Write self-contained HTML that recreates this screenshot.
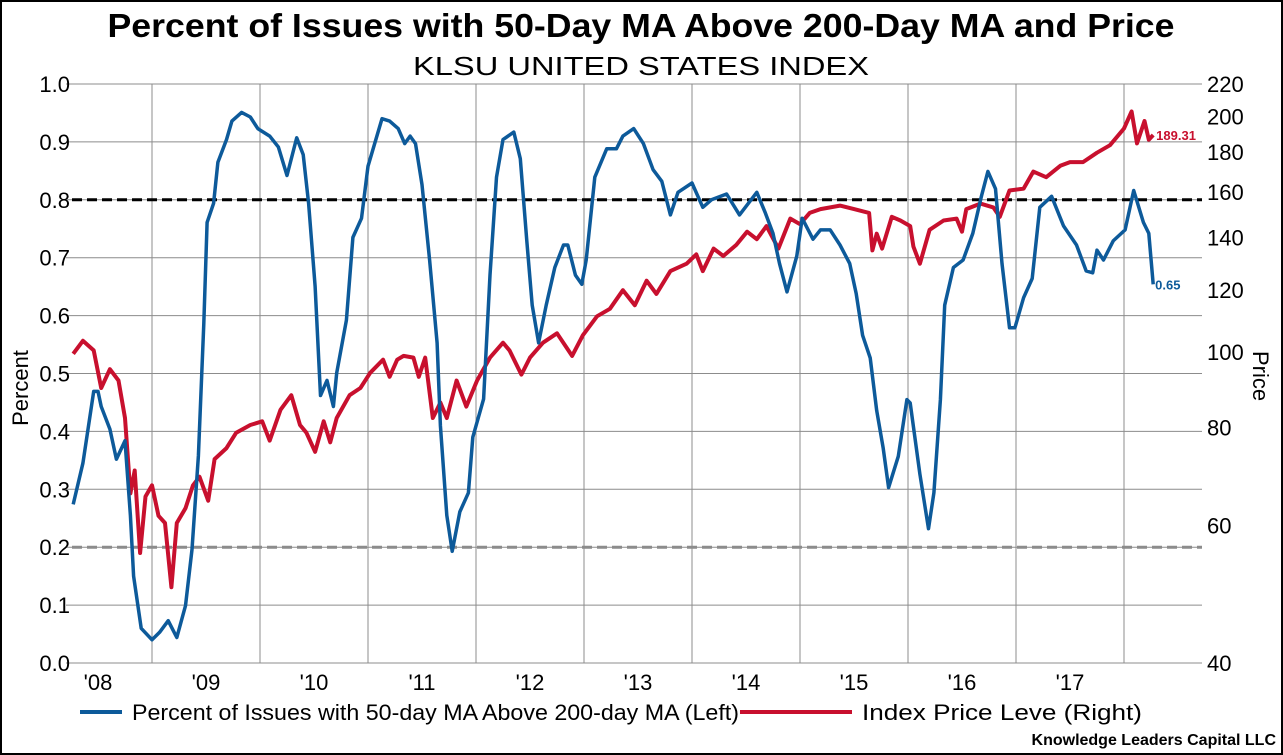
<!DOCTYPE html>
<html><head><meta charset="utf-8">
<style>
html,body{margin:0;padding:0;background:#fff;}
svg{display:block;font-family:"Liberation Sans",Arial,sans-serif;}
</style></head>
<body>
<svg id="chart" width="1283" height="755" viewBox="0 0 1283 755">
<rect x="1" y="1" width="1281" height="753" fill="#fff" stroke="#000" stroke-width="2"/>
<text x="641" y="37" text-anchor="middle" font-size="33" font-weight="bold" textLength="1067" lengthAdjust="spacingAndGlyphs">Percent of Issues with 50-Day MA Above 200-Day MA and Price</text>
<text x="641" y="75" text-anchor="middle" font-size="26" textLength="456" lengthAdjust="spacingAndGlyphs">KLSU UNITED STATES INDEX</text>
<g id="grid"></g>
<g id="axes"></g>
<g id="series"></g>
<text transform="translate(28,388) rotate(-90)" text-anchor="middle" font-size="22">Percent</text>
<text transform="translate(1253,376) rotate(90)" text-anchor="middle" font-size="22">Price</text>
<g>
<g>
<line x1="80" y1="712" x2="122" y2="712" stroke="#0d5a9a" stroke-width="4"/>
<text x="132" y="720" font-size="22" textLength="607" lengthAdjust="spacingAndGlyphs">Percent of Issues with 50-day MA Above 200-day MA  (Left)</text>
</g>
<g>
<line x1="740" y1="712" x2="852" y2="712" stroke="#c8102e" stroke-width="4"/>
<text x="862" y="720" font-size="22" textLength="280" lengthAdjust="spacingAndGlyphs">Index Price Leve  (Right)</text>
</g>
</g>
<text x="1276" y="745" text-anchor="end" font-size="16" font-weight="bold">Knowledge Leaders Capital LLC</text>
</svg>
<script>
const leftTicks = [0.0,0.1,0.2,0.3,0.4,0.5,0.6,0.7,0.8,0.9,1.0];
const rightTicks = [40,60,80,100,120,140,160,180,200,220];
const yearLabels = ["'08","'09","'10","'11","'12","'13","'14","'15","'16","'17"];
const yearStarts = [2008,2009,2010,2011,2012,2013,2014,2015,2016,2017];
const refLevels = [0.8,0.2];
const blueDates = [2007.77,2007.86,2007.96,2008.00,2008.03,2008.11,2008.17,2008.25,2008.30,2008.33,2008.40,2008.50,2008.57,2008.65,2008.73,2008.81,2008.87,2008.93,2008.98,2009.01,2009.07,2009.11,2009.19,2009.24,2009.33,2009.41,2009.48,2009.59,2009.67,2009.75,2009.84,2009.90,2009.95,2010.01,2010.06,2010.12,2010.18,2010.21,2010.30,2010.36,2010.44,2010.50,2010.63,2010.70,2010.78,2010.84,2010.89,2010.94,2011.00,2011.07,2011.14,2011.17,2011.23,2011.28,2011.35,2011.43,2011.47,2011.57,2011.63,2011.69,2011.75,2011.85,2011.91,2011.97,2012.02,2012.08,2012.15,2012.23,2012.31,2012.35,2012.42,2012.48,2012.52,2012.60,2012.71,2012.80,2012.86,2012.96,2013.05,2013.14,2013.22,2013.30,2013.37,2013.50,2013.60,2013.68,2013.82,2013.94,2014.10,2014.18,2014.25,2014.31,2014.38,2014.47,2014.52,2014.62,2014.69,2014.78,2014.87,2014.96,2015.02,2015.08,2015.15,2015.21,2015.27,2015.32,2015.41,2015.49,2015.52,2015.61,2015.69,2015.74,2015.80,2015.84,2015.92,2016.01,2016.10,2016.18,2016.24,2016.31,2016.37,2016.44,2016.49,2016.57,2016.65,2016.72,2016.83,2016.94,2017.06,2017.15,2017.21,2017.25,2017.31,2017.40,2017.51,2017.59,2017.68,2017.73,2017.77];
const blueVals = [0.274,0.345,0.469,0.469,0.443,0.404,0.352,0.384,0.255,0.15,0.06,0.04,0.053,0.073,0.044,0.099,0.196,0.358,0.586,0.761,0.794,0.865,0.904,0.936,0.951,0.943,0.923,0.91,0.891,0.842,0.907,0.878,0.794,0.651,0.462,0.488,0.443,0.501,0.592,0.735,0.768,0.858,0.94,0.936,0.923,0.897,0.91,0.897,0.826,0.696,0.553,0.41,0.255,0.193,0.261,0.294,0.39,0.456,0.67,0.839,0.904,0.917,0.871,0.729,0.618,0.553,0.618,0.683,0.722,0.722,0.67,0.654,0.696,0.839,0.888,0.888,0.91,0.923,0.897,0.852,0.832,0.774,0.813,0.829,0.787,0.8,0.81,0.774,0.813,0.777,0.742,0.69,0.641,0.703,0.768,0.732,0.748,0.748,0.722,0.69,0.638,0.566,0.527,0.436,0.371,0.303,0.357,0.455,0.449,0.326,0.232,0.294,0.455,0.618,0.683,0.696,0.742,0.806,0.849,0.819,0.69,0.579,0.579,0.631,0.664,0.787,0.806,0.755,0.722,0.677,0.674,0.713,0.696,0.729,0.748,0.816,0.761,0.742,0.654];
const redDates = [2007.77,2007.86,2007.96,2008.03,2008.11,2008.19,2008.25,2008.30,2008.34,2008.39,2008.44,2008.50,2008.56,2008.62,2008.68,2008.73,2008.81,2008.88,2008.94,2009.02,2009.08,2009.19,2009.28,2009.41,2009.52,2009.59,2009.69,2009.79,2009.87,2009.93,2010.01,2010.09,2010.15,2010.21,2010.33,2010.43,2010.52,2010.64,2010.70,2010.77,2010.83,2010.92,2010.97,2011.03,2011.10,2011.17,2011.23,2011.32,2011.41,2011.51,2011.63,2011.75,2011.81,2011.92,2012.00,2012.12,2012.25,2012.39,2012.49,2012.62,2012.74,2012.86,2012.97,2013.08,2013.17,2013.30,2013.45,2013.54,2013.60,2013.70,2013.79,2013.91,2014.01,2014.10,2014.19,2014.30,2014.41,2014.50,2014.59,2014.69,2014.87,2015.00,2015.14,2015.17,2015.21,2015.26,2015.35,2015.43,2015.52,2015.55,2015.61,2015.70,2015.83,2015.95,2016.00,2016.04,2016.17,2016.29,2016.35,2016.44,2016.57,2016.66,2016.78,2016.91,2017.00,2017.12,2017.25,2017.37,2017.50,2017.57,2017.62,2017.69,2017.73,2017.77];
const redVals = [99.4,103.3,100.4,89.9,95.0,91.9,82.3,65.9,70.5,55.3,65.3,67.5,61.7,60.4,50.0,60.4,63.1,67.5,69.2,64.5,72.9,75.3,78.8,80.6,81.5,77.0,84.3,88.0,80.6,78.8,74.5,81.5,76.6,82.3,88.0,89.9,94.0,97.7,92.9,97.7,98.8,98.3,92.9,98.3,82.3,86.1,82.3,91.9,85.1,91.9,98.3,102.7,100.4,93.5,98.3,102.7,105.6,98.8,105.0,111.0,113.5,119.9,114.7,123.3,118.6,126.8,129.6,133.2,126.8,135.5,132.6,137.0,142.4,139.3,144.8,135.5,148.0,145.6,150.5,152.2,153.8,152.2,150.5,134.8,141.6,135.5,148.8,147.2,144.8,136.3,129.6,143.2,147.2,148.0,142.4,152.2,154.7,153.0,148.8,160.8,161.7,170.0,167.2,172.9,174.8,174.8,179.7,183.7,193.0,202.9,184.7,197.3,186.7,189.31];

const NS = "http://www.w3.org/2000/svg";
const PL = 72, PR = 1202, PT = 84, PB = 663;
function xOf(t){ return 98 + (t - 2008) * 108; }
function yLeft(v){ return PB - v * (PB - PT); }
function yRight(p){ return PB - Math.log(p/40)/Math.log(220/40) * (PB - PT); }
function mk(tag, attrs, parent){ const e = document.createElementNS(NS, tag); for (const k in attrs) e.setAttribute(k, attrs[k]); parent.appendChild(e); return e; }

const grid = document.getElementById('grid');
const axes = document.getElementById('axes');
const series = document.getElementById('series');

leftTicks.forEach(v => {
  const y = yLeft(v);
  const gl = mk('line', {x1: PL - 6, x2: PR, y1: y, y2: y, stroke: '#8c8c8c', 'stroke-width': 1}, grid);
  
  
  const t = mk('text', {x: PL - 2, y: y + 8, 'text-anchor': 'end', 'font-size': 22}, axes);
  t.textContent = v.toFixed(1);
  
  
});
yearStarts.forEach((yr, i) => {
  const gx = xOf(yr + 0.5);
  const gl = mk('line', {x1: gx, x2: gx, y1: PT, y2: PB, stroke: '#8c8c8c', 'stroke-width': 1}, grid);
  
  
  const t = mk('text', {x: xOf(yr), y: 690, 'text-anchor': 'middle', 'font-size': 22}, axes);
  t.textContent = yearLabels[i];
  
  
});
rightTicks.forEach(p => {
  const y = yRight(p);
  const t = mk('text', {x: PR + 5, y: y + 8, 'font-size': 22}, axes);
  t.textContent = p;
  
  
});
refLevels.forEach((v, i) => {
  const y = yLeft(v);
  const l = mk('line', {x1: PL, x2: PR, y1: y, y2: y, stroke: i === 0 ? '#000' : '#8c8c8c', 'stroke-width': 3, 'stroke-dasharray': '10,5'}, grid);
  
  
});

const rp = mk('polyline', {points: redDates.map((d, i) => xOf(d).toFixed(1) + ',' + yRight(redVals[i]).toFixed(1)).join(' '), fill: 'none', stroke: '#c8102e', 'stroke-width': 4, 'stroke-linejoin': 'round'}, series);


const bp = mk('polyline', {points: blueDates.map((d, i) => xOf(d).toFixed(1) + ',' + yLeft(blueVals[i]).toFixed(1)).join(' '), fill: 'none', stroke: '#0d5a9a', 'stroke-width': 3.5, 'stroke-linejoin': 'round'}, series);



const lastR = redVals[redVals.length - 1], lastB = blueVals[blueVals.length - 1];
const rl = mk('text', {x: xOf(redDates[redDates.length - 1]) + 3, y: yRight(lastR) + 5, 'font-size': 13, 'font-weight': 'bold', fill: '#c8102e'}, series);
rl.textContent = lastR.toFixed(2);


const bl = mk('text', {x: xOf(blueDates[blueDates.length - 1]) + 2, y: yLeft(lastB) + 5, 'font-size': 13, 'font-weight': 'bold', fill: '#0d5a9a'}, series);
bl.textContent = lastB.toFixed(2);


</script>
</body></html>
